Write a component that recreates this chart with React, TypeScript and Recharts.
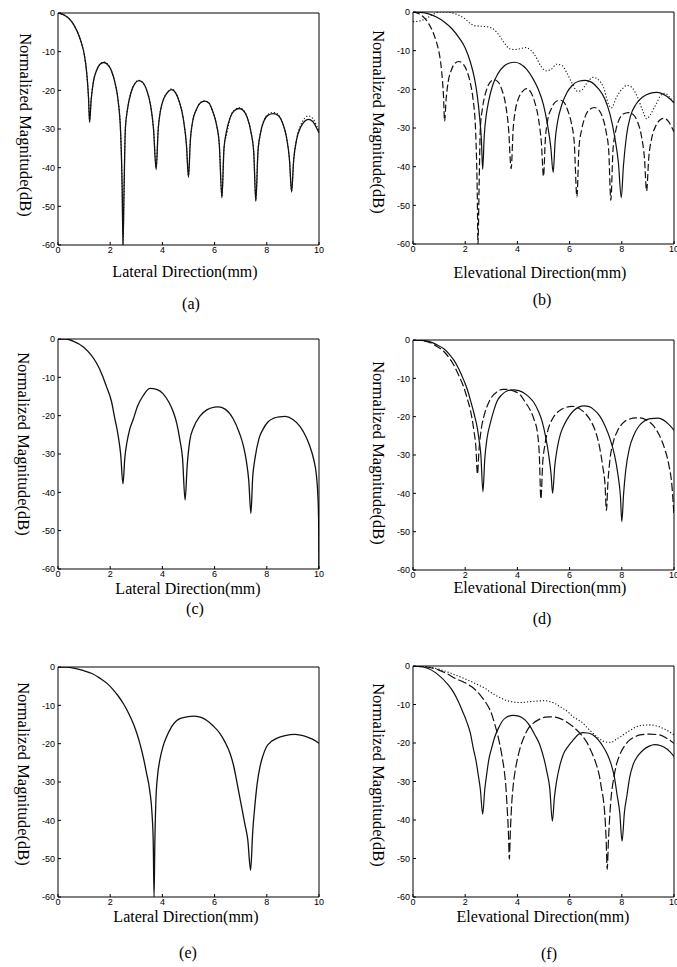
import React from 'react';
import { LineChart, Line, XAxis, YAxis } from 'recharts';

type P = [number, number];

const xTicks = [0, 2, 4, 6, 8, 10];
const yTicks = [-60, -50, -40, -30, -20, -10, 0];

// (a) lateral pattern, solid and dotted (nearly identical); also dashed curve in (b)
const lateralSolid: P[] = [
  [0, 0], [0.2, -0.4], [0.4, -1.3], [0.6, -3], [0.8, -5.8], [0.9, -7.8], [1.0, -10.5], [1.1, -15.5],
  [1.17, -22], [1.21, -28.3], [1.27, -22.5], [1.35, -18], [1.47, -15], [1.6, -13.3], [1.75, -12.8],
  [1.9, -13.3], [2.05, -15], [2.2, -18.5], [2.3, -22.5], [2.4, -31], [2.46, -46], [2.49, -60],
  [2.53, -46], [2.58, -30], [2.66, -25], [2.8, -20.5], [2.95, -18.2], [3.1, -17.5], [3.25, -18],
  [3.4, -20], [3.55, -24], [3.66, -30], [3.76, -40.5], [3.84, -30], [3.92, -25.5], [4.05, -22.2],
  [4.2, -20.5], [4.35, -19.8], [4.5, -20.6], [4.65, -23], [4.8, -27.3], [4.92, -34], [5.0, -42.5],
  [5.07, -33], [5.16, -28], [5.3, -25], [5.45, -23.3], [5.62, -22.8], [5.78, -23.3], [5.92, -25.3],
  [6.06, -28.5], [6.18, -34], [6.28, -47.8], [6.36, -35], [6.46, -30.5], [6.6, -27], [6.75, -25.3],
  [6.95, -24.7], [7.1, -25.2], [7.25, -27], [7.4, -31], [7.5, -36], [7.58, -48.7], [7.66, -36],
  [7.76, -31], [7.9, -27.8], [8.05, -26.4], [8.25, -26], [8.45, -26.6], [8.6, -28.4], [8.75, -32],
  [8.87, -38], [8.95, -46.3], [9.03, -38], [9.15, -32.5], [9.3, -29.5], [9.45, -28], [9.6, -27.5],
  [9.75, -28], [9.9, -29.6], [10, -31],
];

const lateralDotted: P[] = [
  [0, 0], [0.2, -0.4], [0.4, -1.3], [0.6, -3], [0.8, -5.8], [0.9, -7.8], [1.0, -10.5], [1.1, -15.5],
  [1.17, -22], [1.21, -28], [1.27, -22.5], [1.35, -18], [1.47, -15], [1.6, -13.3], [1.75, -12.7],
  [1.9, -13.2], [2.05, -15], [2.2, -18.5], [2.3, -22.5], [2.4, -31], [2.46, -46], [2.49, -60],
  [2.53, -46], [2.58, -30], [2.66, -25], [2.8, -20.5], [2.95, -18.2], [3.1, -17.4], [3.25, -18],
  [3.4, -20], [3.55, -24], [3.66, -30], [3.76, -40], [3.84, -30], [3.92, -25.5], [4.05, -22.2],
  [4.2, -20.5], [4.35, -19.6], [4.5, -20.5], [4.65, -23], [4.8, -27.3], [4.92, -34], [5.0, -42],
  [5.07, -33], [5.16, -28], [5.3, -25], [5.45, -23.2], [5.62, -22.7], [5.78, -23.2], [5.92, -25.3],
  [6.06, -28.5], [6.18, -34], [6.28, -47.5], [6.36, -35], [6.46, -31.5], [6.6, -27], [6.75, -25.2],
  [6.95, -24.5], [7.1, -25.1], [7.25, -27], [7.4, -31], [7.5, -36], [7.58, -48.5], [7.66, -36],
  [7.76, -31], [7.9, -27.6], [8.05, -26.2], [8.25, -25.7], [8.45, -26.4], [8.6, -28.3], [8.75, -32],
  [8.87, -38], [8.95, -46], [9.03, -38], [9.15, -32.3], [9.3, -29], [9.45, -27.2], [9.6, -26.6],
  [9.75, -27.2], [9.9, -29], [10, -30.4],
];

// (b)
const bSolid: P[] = [
  [0, 0], [0.3, -0.1], [0.6, -0.5], [0.9, -1.3], [1.2, -2.6], [1.5, -4.4], [1.8, -7], [2.0, -9.3],
  [2.2, -13], [2.35, -17], [2.45, -21], [2.55, -27], [2.62, -33], [2.67, -40.7], [2.73, -32],
  [2.8, -27], [2.9, -23], [3.05, -19], [3.25, -16], [3.5, -13.9], [3.7, -13.2], [3.88, -13],
  [4.1, -13.4], [4.35, -14.8], [4.6, -17.3], [4.8, -20], [5.0, -24], [5.15, -29], [5.28, -35],
  [5.37, -41.5], [5.45, -33], [5.55, -28], [5.7, -24], [5.9, -20.8], [6.1, -19], [6.35, -17.9],
  [6.6, -17.7], [6.85, -18.2], [7.1, -19.8], [7.35, -22.5], [7.55, -26.5], [7.72, -32], [7.87, -39],
  [7.98, -48], [8.06, -40], [8.18, -32], [8.33, -27], [8.55, -23.8], [8.8, -22], [9.05, -21.1],
  [9.35, -20.8], [9.6, -21.3], [9.85, -22.5], [10, -23.5],
];

const bDotted: P[] = [
  [0, -2.5], [0.2, -2.4], [0.4, -2.0], [0.6, -1.3], [0.8, -0.5], [1.0, 0], [1.3, 0], [1.55, -0.3],
  [1.8, -1.0], [2.0, -1.8], [2.2, -3.0], [2.4, -3.6], [2.65, -3.7], [2.9, -3.9], [3.1, -4.5],
  [3.3, -6], [3.5, -8], [3.7, -9.5], [3.9, -9.7], [4.1, -9.5], [4.3, -9.2], [4.5, -9.8], [4.7, -11.5],
  [4.9, -14], [5.1, -15.2], [5.3, -14.8], [5.5, -13.5], [5.7, -13.8], [5.9, -15.8], [6.1, -18.5],
  [6.3, -20.5], [6.45, -20.3], [6.65, -18.5], [6.9, -16.9], [7.1, -17.5], [7.3, -19.5], [7.5, -24],
  [7.6, -24.8], [7.8, -22], [8.0, -20], [8.2, -19], [8.4, -19.6], [8.6, -22], [8.8, -25.5],
  [8.95, -27.6], [9.1, -26.5], [9.3, -24], [9.5, -21.5], [9.65, -21], [9.8, -21.8], [10, -23.5],
];

// (c)
const cSolid: P[] = [
  [0, 0], [0.3, 0], [0.6, -0.6], [0.96, -2], [1.25, -4], [1.47, -6.2], [1.7, -9.5], [1.85, -12.3],
  [2.05, -16.3], [2.17, -20.5], [2.3, -25], [2.4, -30], [2.49, -37.8], [2.56, -31], [2.64, -27],
  [2.75, -23.5], [2.88, -21], [3.05, -17.5], [3.26, -14.8], [3.52, -12.9], [3.8, -13.2], [4.03, -14.3],
  [4.25, -16.5], [4.41, -18.9], [4.55, -22], [4.67, -26.3], [4.77, -31], [4.87, -42], [4.95, -33],
  [5.05, -26.5], [5.2, -23], [5.43, -20.2], [5.7, -18.5], [6.0, -17.8], [6.14, -17.7], [6.4, -18.3],
  [6.71, -20.8], [6.95, -24.5], [7.1, -27.8], [7.22, -32], [7.31, -37], [7.39, -45.5], [7.46, -36],
  [7.54, -31.5], [7.7, -26], [7.86, -23.5], [8.05, -21.6], [8.25, -20.7], [8.5, -20.3], [8.7, -20.2],
  [9.0, -21], [9.27, -22.8], [9.5, -25.5], [9.65, -28], [9.8, -31.5], [9.9, -35.5], [9.95, -40],
  [9.985, -47], [10, -60],
];

// (d)
const dSolid: P[] = [
  [0, 0], [0.3, -0.1], [0.66, -0.5], [0.9, -1.2], [1.18, -2.3], [1.4, -3.8], [1.56, -5.2], [1.75, -7.5],
  [1.94, -10.4], [2.1, -13.3], [2.2, -15.7], [2.35, -19.5], [2.46, -22.8], [2.53, -26], [2.6, -30],
  [2.68, -39.6], [2.75, -31], [2.84, -25.5], [2.97, -21.5], [3.1, -18.3], [3.22, -16], [3.4, -14.3],
  [3.6, -13.3], [3.86, -13], [4.05, -13.2], [4.25, -13.8], [4.45, -14.9], [4.63, -16.3], [4.8, -18.5],
  [4.95, -21.3], [5.08, -25.2], [5.2, -30], [5.29, -35], [5.35, -40], [5.43, -33], [5.52, -28.5],
  [5.65, -24.5], [5.78, -22.3], [5.97, -20], [6.16, -18.4], [6.35, -17.5], [6.55, -17.2], [6.75, -17.4],
  [6.95, -18.3], [7.15, -19.8], [7.35, -22.3], [7.55, -25.8], [7.72, -30], [7.85, -35], [7.95, -41],
  [8.0, -47.4], [8.07, -40], [8.15, -34], [8.3, -28], [8.45, -25], [8.65, -22.5], [8.85, -21.2],
  [9.1, -20.5], [9.39, -20.4], [9.6, -20.9], [9.8, -22], [10, -23.5],
];

const dDashed: P[] = [
  [0, 0], [0.3, -0.1], [0.66, -0.7], [0.9, -1.6], [1.18, -3], [1.4, -4.8], [1.56, -6.5], [1.75, -9.2],
  [1.94, -12.2], [2.1, -15.8], [2.2, -18.3], [2.33, -23.5], [2.41, -28], [2.47, -35], [2.53, -28.5],
  [2.6, -24], [2.72, -19.8], [2.84, -17.3], [3.0, -15], [3.22, -13.5], [3.45, -12.9], [3.62, -12.9],
  [3.85, -13.3], [4.12, -14.4], [4.3, -16.2], [4.5, -18.4], [4.65, -21], [4.76, -23.8], [4.84, -30],
  [4.9, -41.5], [4.97, -32], [5.05, -27.5], [5.17, -23.5], [5.35, -20.5], [5.6, -18.5], [5.85, -17.6],
  [6.1, -17.3], [6.3, -17.6], [6.55, -18.8], [6.8, -21], [7.0, -24], [7.15, -28], [7.27, -33],
  [7.36, -38], [7.41, -44.5], [7.47, -37], [7.55, -31], [7.68, -26.5], [7.85, -23.5], [8.05, -21.6],
  [8.3, -20.6], [8.55, -20.3], [8.7, -20.3], [8.95, -20.9], [9.2, -22.3], [9.45, -25], [9.65, -28.5],
  [9.8, -32.5], [9.92, -38], [10, -46],
];

// (e)
const eSolid: P[] = [
  [0, 0], [0.3, -0.05], [0.6, -0.3], [0.96, -0.9], [1.3, -1.7], [1.6, -2.9], [1.9, -4.4], [2.11, -5.9],
  [2.3, -7.5], [2.49, -9.4], [2.7, -12], [2.88, -14.7], [3.02, -17.3], [3.13, -19.8], [3.26, -23.3],
  [3.39, -27.6], [3.52, -32.5], [3.6, -38], [3.65, -46], [3.68, -60], [3.71, -46], [3.75, -35],
  [3.82, -28], [3.9, -24.3], [4.02, -20.8], [4.16, -18.2], [4.35, -15.6], [4.54, -14], [4.8, -13.2],
  [5.18, -12.8], [5.45, -13.1], [5.69, -13.9], [5.95, -15.4], [6.2, -17.3], [6.4, -19.6], [6.59, -22.5],
  [6.72, -25.5], [6.84, -29.5], [6.95, -33.5], [7.05, -37], [7.16, -41], [7.27, -45], [7.38, -53],
  [7.46, -43], [7.54, -36.4], [7.63, -30.5], [7.74, -26], [7.86, -23], [7.99, -20.8], [8.18, -19.4],
  [8.38, -18.6], [8.7, -17.9], [9.08, -17.6], [9.3, -17.8], [9.53, -18.2], [9.75, -18.8], [10, -19.9],
];

// (f)
const fSolid: P[] = [
  [0, 0], [0.46, -0.4], [0.97, -2.3], [1.35, -4.9], [1.55, -6.8], [1.74, -9.3], [1.9, -11.8],
  [2.06, -14.5], [2.2, -17.5], [2.31, -21.4], [2.42, -24.8], [2.5, -28.3], [2.58, -32], [2.67, -38.5],
  [2.75, -32], [2.82, -28.3], [2.9, -24.5], [3.01, -21.4], [3.13, -18.5], [3.27, -16.2], [3.52, -13.6],
  [3.84, -12.8], [4.05, -13], [4.29, -14], [4.5, -15.8], [4.67, -17.9], [4.86, -20.5], [5.03, -24.4],
  [5.13, -27.5], [5.24, -31.8], [5.34, -40.3], [5.42, -34], [5.5, -30], [5.62, -26], [5.75, -23.1],
  [5.95, -20.8], [6.14, -19.2], [6.33, -17.8], [6.52, -17.3], [6.7, -17.4], [6.9, -17.9], [7.1, -19.2],
  [7.28, -20.9], [7.45, -23], [7.6, -25.7], [7.72, -29], [7.82, -33.5], [7.92, -38], [8.01, -45.5],
  [8.1, -38], [8.2, -33.5], [8.3, -29], [8.43, -25.7], [8.62, -23.3], [8.82, -21.8], [9.05, -20.8],
  [9.26, -20.4], [9.5, -20.7], [9.7, -21.4], [9.85, -22.3], [10, -23.5],
];

const fDashed: P[] = [
  [0, 0], [0.46, -0.2], [0.97, -1], [1.3, -2], [1.61, -3.2], [1.95, -4.2], [2.25, -5.4], [2.45, -6.6],
  [2.63, -8], [2.8, -9.6], [2.95, -11.4], [3.05, -13.2], [3.14, -15.3], [3.24, -17.8], [3.33, -20.5],
  [3.42, -23.8], [3.5, -27.4], [3.56, -31.5], [3.6, -36], [3.66, -44], [3.69, -50.2], [3.73, -43],
  [3.78, -36], [3.84, -31], [3.91, -27.4], [4.0, -24.2], [4.1, -21.4], [4.25, -18.5], [4.42, -16.2],
  [4.6, -14.9], [4.8, -14], [5.06, -13.3], [5.24, -13.2], [5.45, -13.3], [5.62, -13.6], [5.9, -14.6],
  [6.14, -15.8], [6.4, -17.5], [6.65, -19.7], [6.85, -22.5], [7.03, -25.7], [7.14, -28.5], [7.22, -31.8],
  [7.3, -35], [7.35, -38.7], [7.4, -45], [7.44, -52.8], [7.49, -45], [7.54, -38.7], [7.6, -33.5],
  [7.67, -30], [7.78, -26], [7.92, -23.1], [8.1, -20.8], [8.31, -19.2], [8.5, -18.4], [8.69, -17.9],
  [9.07, -17.7], [9.45, -17.9], [9.7, -18.7], [10, -20.1],
];

const fDotted: P[] = [
  [0, 0], [0.5, -0.2], [0.97, -0.8], [1.3, -1.5], [1.61, -2.3], [1.95, -3.2], [2.25, -4.1], [2.5, -4.9],
  [2.76, -5.8], [2.95, -6.7], [3.14, -7.5], [3.33, -8.2], [3.52, -8.8], [3.72, -9.2], [3.91, -9.4],
  [4.1, -9.5], [4.29, -9.4], [4.55, -9.2], [4.8, -9.1], [5.06, -9.0], [5.2, -9.2], [5.37, -9.5],
  [5.55, -10.2], [5.74, -11], [5.95, -12], [6.14, -13.2], [6.33, -14], [6.52, -14.9], [6.7, -16.2],
  [6.9, -17.5], [7.1, -18.7], [7.28, -19.5], [7.45, -19.8], [7.6, -19.8], [7.8, -19], [8.05, -17.9],
  [8.3, -16.8], [8.56, -15.8], [8.8, -15.4], [9.07, -15.3], [9.3, -15.5], [9.45, -15.8], [9.7, -16.6],
  [10, -17.9],
];

const toRows = (a: P[]) => a.map(([x, y]) => ({ x, y }));

type Series = { name: string; data: P[]; dash?: string; width?: number };

const SOLID = undefined;
const DASH = '7 3';
const DOT = '1.2 2';

const INK = '#111';

function Panel(props: { left: number; top: number; w: number; h: number; series: Series[] }) {
  const { left, top, w, h, series } = props;
  const ML = 40, MT = 6, MR = 6, MB = 22;
  const tickStyle = { fill: '#000', fontSize: 9, fontFamily: 'Liberation Sans, Arial, sans-serif' };
  return (
    <div style={{ position: 'absolute', left: left - ML, top: top - MT }}>
      <LineChart width={w + ML + MR} height={h + MT + MB} margin={{ top: 0, right: 0, bottom: 0, left: 0 }}>
        <XAxis xAxisId="b" dataKey="x" type="number" domain={[0, 10]} ticks={xTicks} interval={0}
          allowDataOverflow height={MB} tickSize={-3} tickMargin={5} stroke="#000" tick={tickStyle} />
        <XAxis xAxisId="t" orientation="top" dataKey="x" type="number" domain={[0, 10]} ticks={xTicks}
          interval={0} allowDataOverflow height={MT} tickSize={-3} tick={false} stroke="#000" />
        <YAxis yAxisId="l" type="number" domain={[-60, 0]} ticks={yTicks} interval={0} allowDataOverflow
          width={ML} tickSize={-3} tickMargin={6} stroke="#000" tick={tickStyle} />
        <YAxis yAxisId="r" orientation="right" type="number" domain={[-60, 0]} ticks={yTicks} interval={0}
          allowDataOverflow width={MR} tickSize={-3} tick={false} stroke="#000" />
        {series.map((s) => (
          <Line key={s.name} name={s.name} xAxisId="b" yAxisId="l" data={toRows(s.data)} dataKey="y"
            type="monotone" stroke={INK} strokeWidth={s.width ?? 1.2} strokeDasharray={s.dash}
            dot={false} activeDot={false} isAnimationActive={false} />
        ))}
      </LineChart>
    </div>
  );
}

const serif = 'Liberation Serif, Times New Roman, serif';

function YTitle({ x, y }: { x: number; y: number }) {
  return (
    <text x={x} y={y} transform={`rotate(90 ${x} ${y})`} textAnchor="middle" dominantBaseline="central"
      fontFamily={serif} fontSize={16.5} fill="#000">Normalized Magnitude(dB)</text>
  );
}

function Txt({ x, y, children }: { x: number; y: number; children: string }) {
  return (
    <text x={x} y={y} textAnchor="middle" fontFamily={serif} fontSize={16} fill="#000">{children}</text>
  );
}

export default function App() {
  return (
    <div style={{ position: 'absolute', left: 0, top: 0, width: 677, height: 967, overflow: 'hidden', background: '#fff' }}>
      <Panel left={58} top={13} w={261} h={232} series={[
        { name: 'a-dotted', data: lateralDotted, dash: DOT, width: 1.1 },
        { name: 'a-solid', data: lateralSolid, dash: SOLID, width: 1.3 },
      ]} />
      <Panel left={413} top={12} w={261} h={232} series={[
        { name: 'b-dotted', data: bDotted, dash: DOT, width: 1.1 },
        { name: 'b-dashed', data: lateralSolid, dash: DASH, width: 1.2 },
        { name: 'b-solid', data: bSolid, dash: SOLID, width: 1.2 },
      ]} />
      <Panel left={58} top={339} w={261} h={230} series={[
        { name: 'c-solid', data: cSolid, dash: SOLID, width: 1.3 },
      ]} />
      <Panel left={413} top={340} w={261} h={230} series={[
        { name: 'd-dashed', data: dDashed, dash: '8 3', width: 1.2 },
        { name: 'd-solid', data: dSolid, dash: SOLID, width: 1.2 },
      ]} />
      <Panel left={58} top={667} w={261} h={230} series={[
        { name: 'e-solid', data: eSolid, dash: SOLID, width: 1.3 },
      ]} />
      <Panel left={413} top={666} w={261} h={231} series={[
        { name: 'f-dotted', data: fDotted, dash: DOT, width: 1.1 },
        { name: 'f-dashed', data: fDashed, dash: '9 3', width: 1.2 },
        { name: 'f-solid', data: fSolid, dash: SOLID, width: 1.2 },
      ]} />
      <svg width={677} height={967} style={{ position: 'absolute', left: 0, top: 0, pointerEvents: 'none' }}>
        <YTitle x={25} y={125} />
        <YTitle x={378} y={122} />
        <YTitle x={23} y={444} />
        <YTitle x={378} y={453} />
        <YTitle x={23} y={774} />
        <YTitle x={378} y={775} />
        <Txt x={185} y={277}>Lateral Direction(mm)</Txt>
        <Txt x={540} y={278}>Elevational Direction(mm)</Txt>
        <Txt x={188} y={594}>Lateral Direction(mm)</Txt>
        <Txt x={540} y={593}>Elevational Direction(mm)</Txt>
        <Txt x={186} y={922}>Lateral Direction(mm)</Txt>
        <Txt x={543} y={922}>Elevational Direction(mm)</Txt>
        <Txt x={191} y={309}>(a)</Txt>
        <Txt x={542} y={305}>(b)</Txt>
        <Txt x={195} y={614}>(c)</Txt>
        <Txt x={542} y={624}>(d)</Txt>
        <Txt x={188} y={958}>(e)</Txt>
        <Txt x={549} y={959}>(f)</Txt>
      </svg>
    </div>
  );
}
